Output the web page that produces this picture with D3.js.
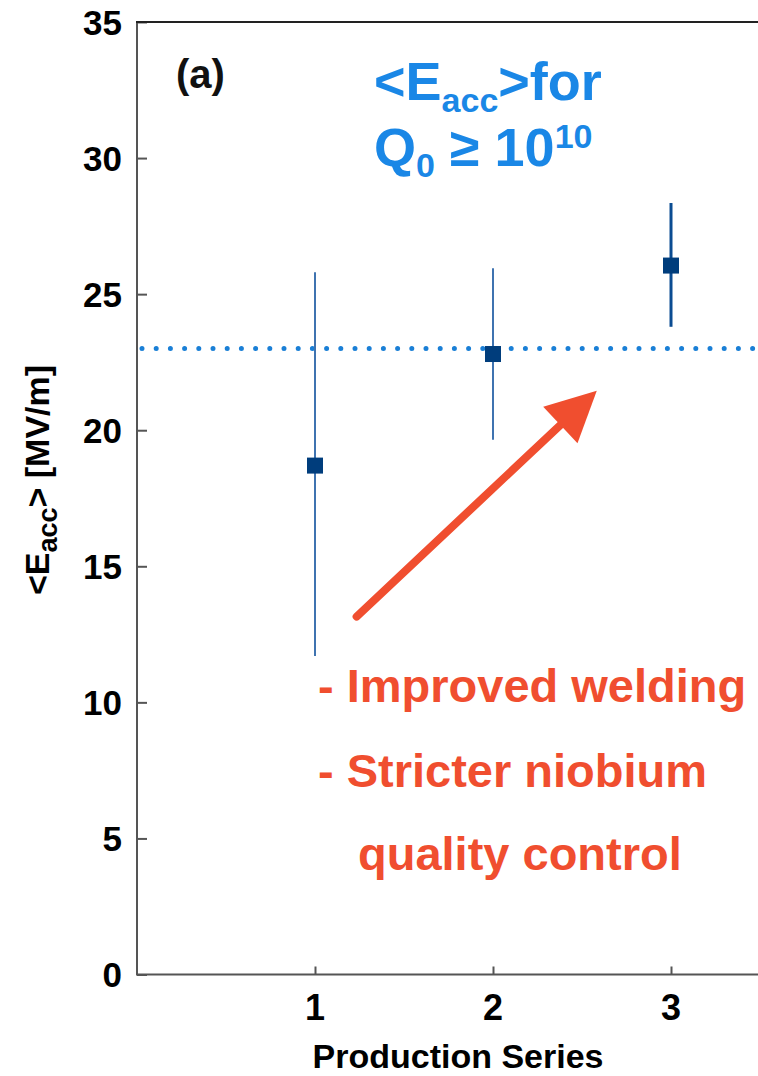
<!doctype html>
<html lang="en">
<head>
  <meta charset="utf-8">
  <title>Eacc by production series</title>
  <style>
    body { margin: 0; background: #fff; }
    svg { display: block; font-family: "Liberation Sans", Arial, Helvetica, sans-serif; font-weight: bold; }
    .axis path, .axis line { stroke: #555; stroke-width: 2; }
  </style>
</head>
<body>
  <div id="chart"></div>
  <script src="https://cdn.jsdelivr.net/npm/d3@7"></script>
  <script>
(function() {

  // production series and measured <Eacc> with spread
  var series = [1, 2, 3];
  var eacc = [18.7, 22.8, 26.05];
  var errLow = [11.7, 19.65, 23.8];
  var errHigh = [25.8, 25.95, 28.35];
  var yTicks = [0, 5, 10, 15, 20, 25, 30, 35];
  var specLevel = 23;
  var arrowFrom = [1.234, 13.15];
  var arrowTo = [2.583, 21.45];
  var notes = ["- Improved welding", "- Stricter niobium", "quality control"];

  var width = 758, height = 1076;
  var x = d3.scaleLinear().domain([0, 3.5]).range([137, 760]);
  var y = d3.scaleLinear().domain([0, 35]).range([974.5, 22]);

  var svg = d3.select("#chart").append("svg")
      .attr("width", width)
      .attr("height", height);

  // axes
  var yAxis = svg.append("g")
      .attr("class", "axis")
      .attr("transform", "translate(" + x(0) + ",0)")
      .call(d3.axisRight(y).tickValues(yTicks).tickSize(10).tickSizeOuter(0).tickFormat(""));
  yAxis.select(".domain").remove();
  svg.append("line")
      .attr("x1", x(0)).attr("x2", x(0))
      .attr("y1", y(35)).attr("y2", y(0))
      .attr("stroke", "#555").attr("stroke-width", 2);
  yAxis.selectAll(".tick line").attr("stroke-width", 1.5);

  svg.append("g").selectAll("text")
      .data(yTicks)
    .enter().append("text")
      .attr("x", 122)
      .attr("y", function(d) { return y(d); })
      .attr("dy", "0.36em")
      .attr("text-anchor", "end")
      .attr("font-size", 35)
      .text(function(d) { return d; });

  var xAxis = svg.append("g")
      .attr("class", "axis")
      .attr("transform", "translate(0," + y(0) + ")")
      .call(d3.axisTop(x).tickValues(series).tickSize(8).tickSizeOuter(0).tickFormat(""));
  xAxis.select(".domain").remove();
  xAxis.selectAll(".tick line").attr("stroke-width", 1.5);

  svg.append("line")
      .attr("x1", x(0) - 1).attr("x2", width)
      .attr("y1", y(0)).attr("y2", y(0))
      .attr("stroke", "#555").attr("stroke-width", 2);
  svg.append("line")
      .attr("x1", x(0) - 1).attr("x2", width)
      .attr("y1", y(35)).attr("y2", y(35))
      .attr("stroke", "#222").attr("stroke-width", 2);

  svg.append("g").selectAll("text")
      .data(series)
    .enter().append("text")
      .attr("x", function(d) { return x(d); })
      .attr("y", 1020)
      .attr("text-anchor", "middle")
      .attr("font-size", 36)
      .text(function(d) { return d; });

  svg.append("text")
      .attr("x", 458)
      .attr("y", 1068)
      .attr("text-anchor", "middle")
      .attr("font-size", 34)
      .text("Production Series");

  var yl = svg.append("text")
      .attr("transform", "translate(49,480) rotate(-90)")
      .attr("text-anchor", "middle")
      .attr("font-size", 34);
  yl.append("tspan").text("<E");
  yl.append("tspan").attr("font-size", 27).attr("dy", 8).text("acc");
  yl.append("tspan").attr("dy", -8).text("> [MV/m]");

  // spec level
  svg.append("line")
      .attr("x1", x(0) + 5).attr("x2", width)
      .attr("y1", y(specLevel)).attr("y2", y(specLevel))
      .attr("stroke", "#1a7fd6")
      .attr("stroke-width", 5)
      .attr("stroke-linecap", "round")
      .attr("stroke-dasharray", "0 14.2");

  // error bars and points
  var pts = series.map(function(s, i) {
    return { s: s, v: eacc[i], lo: errLow[i], hi: errHigh[i] };
  });

  svg.append("g").selectAll("line")
      .data(pts)
    .enter().append("line")
      .attr("x1", function(d) { return x(d.s); })
      .attr("x2", function(d) { return x(d.s); })
      .attr("y1", function(d) { return y(d.lo); })
      .attr("y2", function(d) { return y(d.hi); })
      .attr("stroke", function(d, i) { return i == 2 ? "#0b4c92" : "#3f73b0"; })
      .attr("stroke-width", function(d, i) { return i == 2 ? 3 : 2; });

  svg.append("g").selectAll("rect")
      .data(pts)
    .enter().append("rect")
      .attr("x", function(d) { return x(d.s) - 8; })
      .attr("y", function(d) { return y(d.v) - 8; })
      .attr("width", 16)
      .attr("height", 16)
      .attr("fill", "#003d7c");

  // arrow
  var red = "#f04e2f";
  var x0 = x(arrowFrom[0]), y0 = y(arrowFrom[1]);
  var x1 = x(arrowTo[0]), y1 = y(arrowTo[1]);
  var len = Math.hypot(x1 - x0, y1 - y0);
  var ux = (x1 - x0) / len, uy = (y1 - y0) / len;
  var headLen = 50, headHalf = 25;
  var bx = x1 - ux * headLen, by = y1 - uy * headLen;
  svg.append("line")
      .attr("x1", x0).attr("y1", y0)
      .attr("x2", bx + ux * 5).attr("y2", by + uy * 5)
      .attr("stroke", red)
      .attr("stroke-width", 8)
      .attr("stroke-linecap", "round");
  svg.append("path")
      .attr("d", "M" + x1 + "," + y1 +
        "L" + (bx - uy * headHalf) + "," + (by + ux * headHalf) +
        "L" + (bx + uy * headHalf) + "," + (by - ux * headHalf) + "Z")
      .attr("fill", red);

  // annotations
  svg.append("text")
      .attr("x", 176).attr("y", 88)
      .attr("font-size", 40)
      .attr("fill", "#111")
      .text("(a)");

  var blue = "#1a87e6";
  var t1 = svg.append("text").attr("x", 374).attr("y", 100).attr("font-size", 54).attr("fill", blue);
  t1.append("tspan").text("<E");
  t1.append("tspan").attr("font-size", 34).attr("dy", 12).text("acc");
  t1.append("tspan").attr("dy", -12).text(">for");

  var t2 = svg.append("text").attr("x", 374).attr("y", 166).attr("font-size", 54).attr("fill", blue);
  t2.append("tspan").text("Q");
  t2.append("tspan").attr("font-size", 34).attr("dy", 11).text("0");
  t2.append("tspan").attr("dy", -11).text(" \u2265 10");
  t2.append("tspan").attr("font-size", 34).attr("dy", -18).text("10");

  svg.append("g").selectAll("text")
      .data(notes)
    .enter().append("text")
      .attr("x", function(d, i) { return i == 2 ? 358 : 318; })
      .attr("y", function(d, i) { return [702, 787, 870][i]; })
      .attr("font-size", 47)
      .attr("fill", red)
      .text(function(d) { return d; });

})();
  </script>
</body>
</html>
